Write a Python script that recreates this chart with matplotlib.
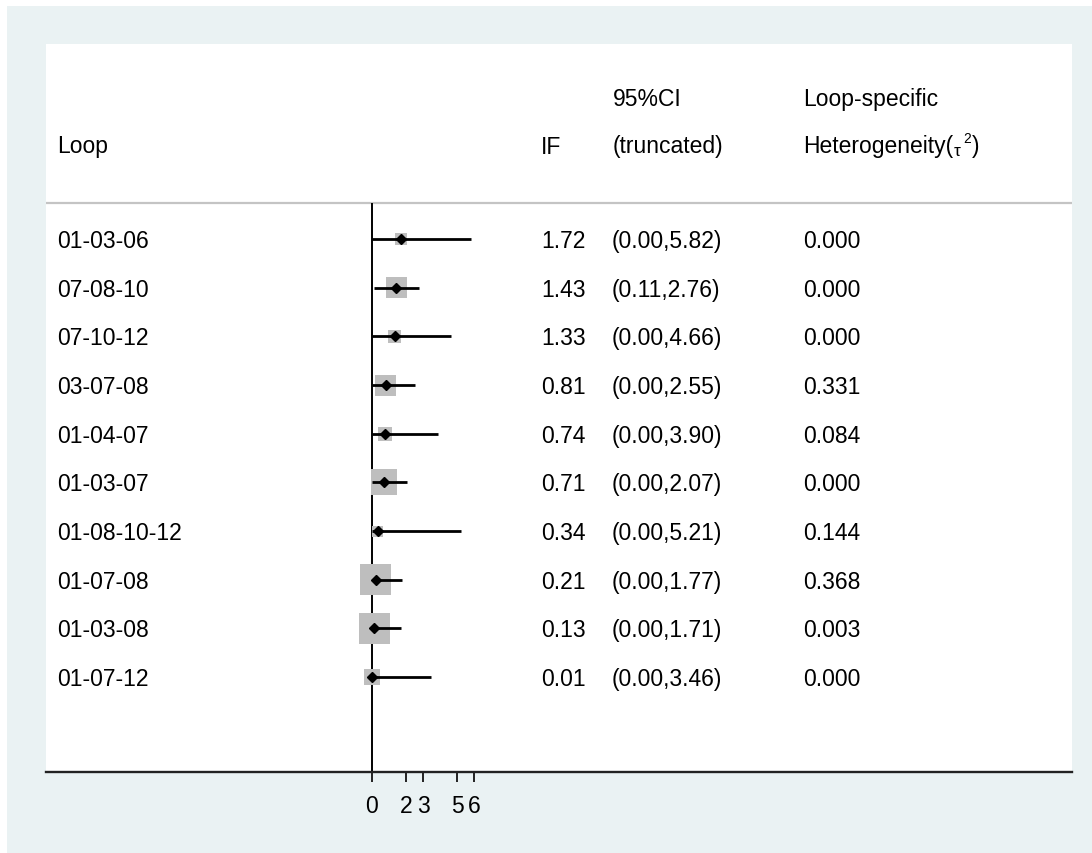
import matplotlib
matplotlib.use("Agg")
import matplotlib.pyplot as plt
import matplotlib.patches as mpatches
from matplotlib.transforms import blended_transform_factory

plt.rcParams['font.family'] = ['Liberation Sans', 'DejaVu Sans']

loops = ["01-03-06", "07-08-10", "07-10-12", "03-07-08", "01-04-07",
         "01-03-07", "01-08-10-12", "01-07-08", "01-03-08", "01-07-12"]
if_vals = [1.72, 1.43, 1.33, 0.81, 0.74, 0.71, 0.34, 0.21, 0.13, 0.01]
ci_low = [0.00, 0.11, 0.00, 0.00, 0.00, 0.00, 0.00, 0.00, 0.00, 0.00]
ci_high = [5.82, 2.76, 4.66, 2.55, 3.90, 2.07, 5.21, 1.77, 1.71, 3.46]
tau2 = ["0.000", "0.000", "0.000", "0.331", "0.084", "0.000", "0.144", "0.368", "0.003", "0.000"]
weights_px = [12, 21, 13, 21, 14, 26, 11, 31, 31, 16]  # box side (relative weight)
xticks = [0, 2, 3, 5, 6]

W, H = 1092, 854
fig = plt.figure(figsize=(W / 100, H / 100), dpi=100, facecolor='white')
fig.patches.append(mpatches.Rectangle((7 / W, 0), 1 - 7 / W, 1 - 7 / H,
                                      transform=fig.transFigure, facecolor='#EAF2F3',
                                      edgecolor='none', zorder=-10))

left, right, top, bottom = 46, 1072, 45, 773
ax = fig.add_axes([left / W, 1 - bottom / H, (right - left) / W, (bottom - top) / H])
ax.set_facecolor('white')

px_per_unit = 17.0
x0px = 372
ax.set_xlim((left - x0px) / px_per_unit, (right - x0px) / px_per_unit)
row0, rowstep = 240, 48.67
ax.set_ylim((bottom - row0) / rowstep, (top - row0) / rowstep)

def ypx(p):
    return (p - row0) / rowstep

fs = 16.5
ypos = list(range(len(loops)))
toff = 1.5 / rowstep  # small downward text offset

ax.axhline(ypx(204), color='#C4C4C4', lw=1.6, zorder=1)
ax.plot([0, 0], [ypx(204), ax.get_ylim()[0]], color='black', lw=1.4, zorder=2,
        solid_capstyle='butt')

ax.scatter(if_vals, ypos, s=[(w * 0.72) ** 2 for w in weights_px], marker='s',
           color='#BEBEBE', edgecolors='none', zorder=3)
ax.hlines(ypos, ci_low, ci_high, color='black', lw=2.0, zorder=4)
ax.plot(if_vals, ypos, linestyle='none', marker='D', markersize=5.5,
        color='black', zorder=5)

tr = blended_transform_factory(ax.transAxes, ax.transData)
def xa(p):
    return (p - left) / (right - left)

for i in ypos:
    y = i + toff
    ax.text(xa(57), y, loops[i], transform=tr, fontsize=fs, va='center', ha='left')
    ax.text(xa(541), y, f"{if_vals[i]:.2f}", transform=tr, fontsize=fs, va='center', ha='left')
    ax.text(xa(612), y, f"({ci_low[i]:.2f},{ci_high[i]:.2f})", transform=tr, fontsize=fs,
            va='center', ha='left')
    ax.text(xa(803), y, tau2[i], transform=tr, fontsize=fs, va='center', ha='left')

ax.text(xa(57), ypx(147), "Loop", transform=tr, fontsize=fs, va='center', ha='left')
ax.text(xa(541), ypx(147), "IF", transform=tr, fontsize=fs, va='center', ha='left')
ax.text(xa(613), ypx(99), "95%CI", transform=tr, fontsize=fs, va='center', ha='left')
ax.text(xa(613), ypx(147), "(truncated)", transform=tr, fontsize=fs, va='center', ha='left')
ax.text(xa(803), ypx(99), "Loop-specific", transform=tr, fontsize=fs, va='center', ha='left')
t = ax.text(xa(803), ypx(147), "Heterogeneity(", transform=tr, fontsize=fs,
            va='center', ha='left')
fig.canvas.draw()
bb = t.get_window_extent()
xend = bb.x1 / W
fig.text(xend + 1 / W, 1 - 152 / H, "τ", fontsize=fs * 0.75, va='center', ha='left')
fig.text(xend + 10 / W, 1 - 139 / H, "2", fontsize=fs * 0.6, va='center', ha='left')
fig.text(xend + 19 / W, 1 - 147 / H, ")", fontsize=fs, va='center', ha='left')

for s in ['top', 'left', 'right']:
    ax.spines[s].set_visible(False)
ax.spines['bottom'].set_color('#222222')
ax.spines['bottom'].set_linewidth(1.7)
ax.set_yticks([])
ax.set_xticks(xticks)
ax.set_xticklabels([str(v) for v in xticks])
ax.tick_params(axis='x', direction='out', length=7.5, width=1.4, color='#222222',
               labelsize=fs, pad=8)

fig.savefig("out.png", dpi=100, facecolor=fig.get_facecolor())
